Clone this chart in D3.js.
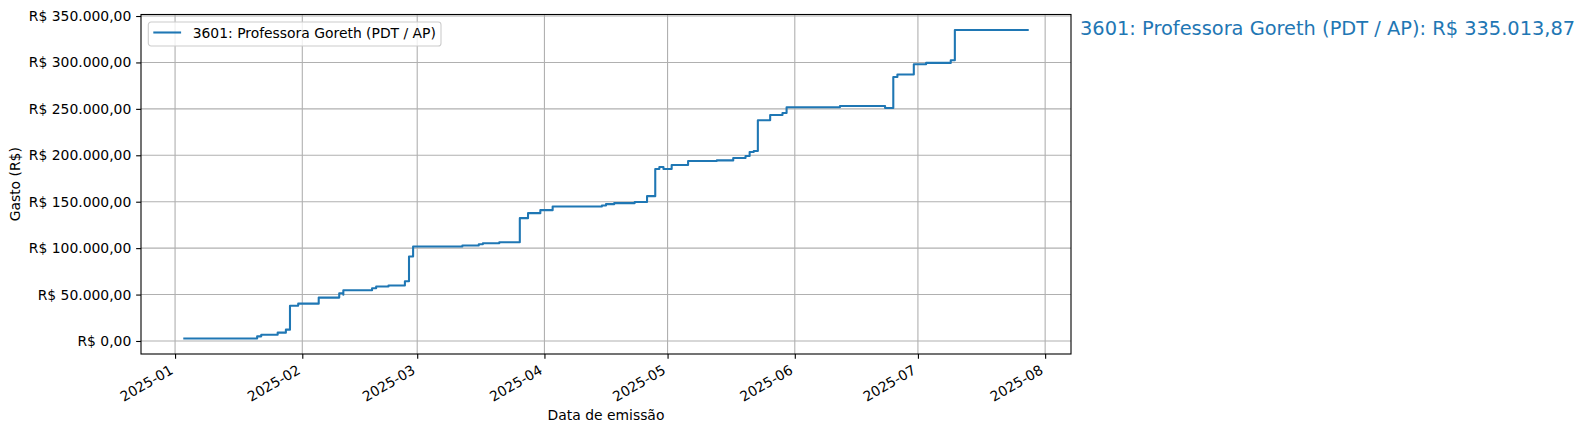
<!DOCTYPE html>
<html>
<head>
<meta charset="utf-8">
<script src="https://cdn.jsdelivr.net/npm/d3@7"></script>
<style>
	body { margin: 0; background: #fff; }
	text { font-family: "DejaVu Sans", sans-serif; }
</style>
</head>
<body>
<div id="chartholder"></div>
<script>
var seriesName = "3601: Professora Goreth (PDT / AP)";

// cumulative spend at each emission date
var dates = [
	"2025-01-03", "2025-01-21", "2025-01-22", "2025-01-26", "2025-01-28", "2025-01-29",
	"2025-01-31", "2025-02-05", "2025-02-10", "2025-02-10", "2025-02-11", "2025-02-11",
	"2025-02-18", "2025-02-19", "2025-02-22", "2025-02-26", "2025-02-27", "2025-02-28",
	"2025-03-12", "2025-03-16", "2025-03-17", "2025-03-21", "2025-03-26", "2025-03-28",
	"2025-03-31", "2025-04-03", "2025-04-15", "2025-04-16", "2025-04-18", "2025-04-23",
	"2025-04-26", "2025-04-28", "2025-04-29", "2025-04-30", "2025-05-02", "2025-05-06",
	"2025-05-13", "2025-05-17", "2025-05-20", "2025-05-21", "2025-05-21", "2025-05-22",
	"2025-05-23", "2025-05-26", "2025-05-29", "2025-05-30", "2025-05-30", "2025-06-12",
	"2025-06-23", "2025-06-25", "2025-06-26", "2025-06-30", "2025-06-30", "2025-07-03",
	"2025-07-09", "2025-07-10", "2025-07-28"
];
var values = [
	2600, 5000, 6800, 9000, 12200, 38000,
	40200, 46700, 49600, 51400, 49800, 54600,
	56800, 58600, 59700, 64300, 91000, 101800,
	102800, 104200, 105300, 106400, 132300, 137700,
	140900, 144900, 146000, 147400, 148500, 149600,
	156000, 185200, 187300, 185200, 189500, 193800,
	194500, 197000, 199200, 201300, 203500, 204600,
	237700, 243400, 245600, 248800, 251700, 253100,
	251000, 284400, 287000, 296000, 298100, 299500,
	302400, 335013.87, 335013.87
];

var yTicks = [0, 50000, 100000, 150000, 200000, 250000, 300000, 350000];
var xTicks = ["2025-01-01", "2025-02-01", "2025-03-01", "2025-04-01",
	"2025-05-01", "2025-06-01", "2025-07-01", "2025-08-01"];

var parseDate = d3.timeParse("%Y-%m-%d");
var chartData = dates.map(function(d, i) { return {date: parseDate(d), value: values[i]}; });
var xTickDates = xTicks.map(parseDate);

var brl = d3.formatLocale({decimal: ",", thousands: ".", grouping: [3], currency: ["R$ ", ""]});
var formatMoney = brl.format("$,.2f");

var blue = "#1f77b4";
var fontSize = 13.9;
var tick = 4.86;
var thin = 1.1; // 0.8pt at 100dpi
var thick = 2.08; // 1.5pt at 100dpi

//svg
var svg = d3.select("#chartholder")
	.append("svg")
	.attr("width", 1586)
	.attr("height", 434);

var box = {left: 141, right: 1071, top: 14.5, bottom: 354};
var width = box.right - box.left,
	height = box.bottom - box.top;

var g = svg.append("g")
	.attr("transform", "translate(" + box.left + "," + box.top + ")");

// scales with 5% padding like matplotlib
var xExt = d3.extent(chartData, function(d) { return d.date; });
var xPad = (xExt[1] - xExt[0]) * 0.05;
var x = d3.scaleTime()
	.domain([new Date(+xExt[0] - xPad), new Date(+xExt[1] + xPad)])
	.range([0, width]);

var yExt = d3.extent(chartData, function(d) { return d.value; });
var yPad = (yExt[1] - yExt[0]) * 0.05;
var y = d3.scaleLinear()
	.domain([yExt[0] - yPad, yExt[1] + yPad])
	.range([height, 0]);

//grid
g.append("g")
	.selectAll("line")
	.data(xTickDates)
	.enter().append("line")
	.attr("x1", function(d) { return x(d); })
	.attr("x2", function(d) { return x(d); })
	.attr("y1", 0)
	.attr("y2", height)
	.attr("stroke", "#b0b0b0")
	.attr("stroke-width", thin);

g.append("g")
	.selectAll("line")
	.data(yTicks)
	.enter().append("line")
	.attr("x1", 0)
	.attr("x2", width)
	.attr("y1", function(d) { return y(d); })
	.attr("y2", function(d) { return y(d); })
	.attr("stroke", "#b0b0b0")
	.attr("stroke-width", thin);

//step line
var line = d3.line()
	.curve(d3.curveStepAfter)
	.x(function(d) { return x(d.date); })
	.y(function(d) { return y(d.value); });

g.append("path")
	.datum(chartData)
	.attr("d", line)
	.attr("fill", "none")
	.attr("stroke", blue)
	.attr("stroke-width", thick)
	.attr("stroke-linejoin", "round");

//x axis
var xAxis = g.append("g")
	.attr("transform", "translate(0," + height + ")")
	.call(d3.axisBottom(x).tickValues(xTickDates).tickSize(tick).tickFormat(d3.timeFormat("%Y-%m")));

xAxis.selectAll("text")
	.attr("y", 0)
	.attr("dy", null)
	.attr("text-anchor", "end")
	.attr("transform", "translate(-1.5,18.9) rotate(-30)");

//y axis
var yAxis = g.append("g")
	.call(d3.axisLeft(y).tickValues(yTicks).tickSize(tick).tickPadding(tick).tickFormat(formatMoney));

[xAxis, yAxis].forEach(function(a) {
	a.select(".domain").remove();
	a.attr("font-family", null).attr("font-size", fontSize);
	a.selectAll("line").attr("stroke", "#000").attr("stroke-width", thin);
	a.selectAll("text").attr("fill", "#000");
});

//frame
g.append("rect")
	.attr("width", width)
	.attr("height", height)
	.attr("fill", "none")
	.attr("stroke", "#000")
	.attr("stroke-width", thin);

//axis labels
svg.append("text")
	.attr("x", box.left + width / 2)
	.attr("y", 419.5)
	.attr("text-anchor", "middle")
	.attr("font-size", fontSize)
	.text("Data de emissão");

svg.append("text")
	.attr("transform", "translate(20," + (box.top + height / 2) + ") rotate(-90)")
	.attr("text-anchor", "middle")
	.attr("font-size", fontSize)
	.text("Gasto (R$)");

//legend
var legend = svg.append("g").attr("transform", "translate(148.3,22)");
legend.append("rect")
	.attr("width", 292.7)
	.attr("height", 24)
	.attr("rx", 2.8)
	.attr("fill", "#fff")
	.attr("fill-opacity", 0.8)
	.attr("stroke", "#cccccc")
	.attr("stroke-width", thin);
legend.append("line")
	.attr("x1", 5)
	.attr("x2", 32.8)
	.attr("y1", 10.5)
	.attr("y2", 10.5)
	.attr("stroke", blue)
	.attr("stroke-width", thick);
legend.append("text")
	.attr("x", 44.4)
	.attr("y", 15.6)
	.attr("font-size", fontSize)
	.text(seriesName);

//total on the right
svg.append("text")
	.attr("x", 1080)
	.attr("y", 35)
	.attr("font-size", 19.4)
	.attr("fill", blue)
	.text(seriesName + ": " + formatMoney(values[values.length - 1]));
</script>
</body>
</html>
